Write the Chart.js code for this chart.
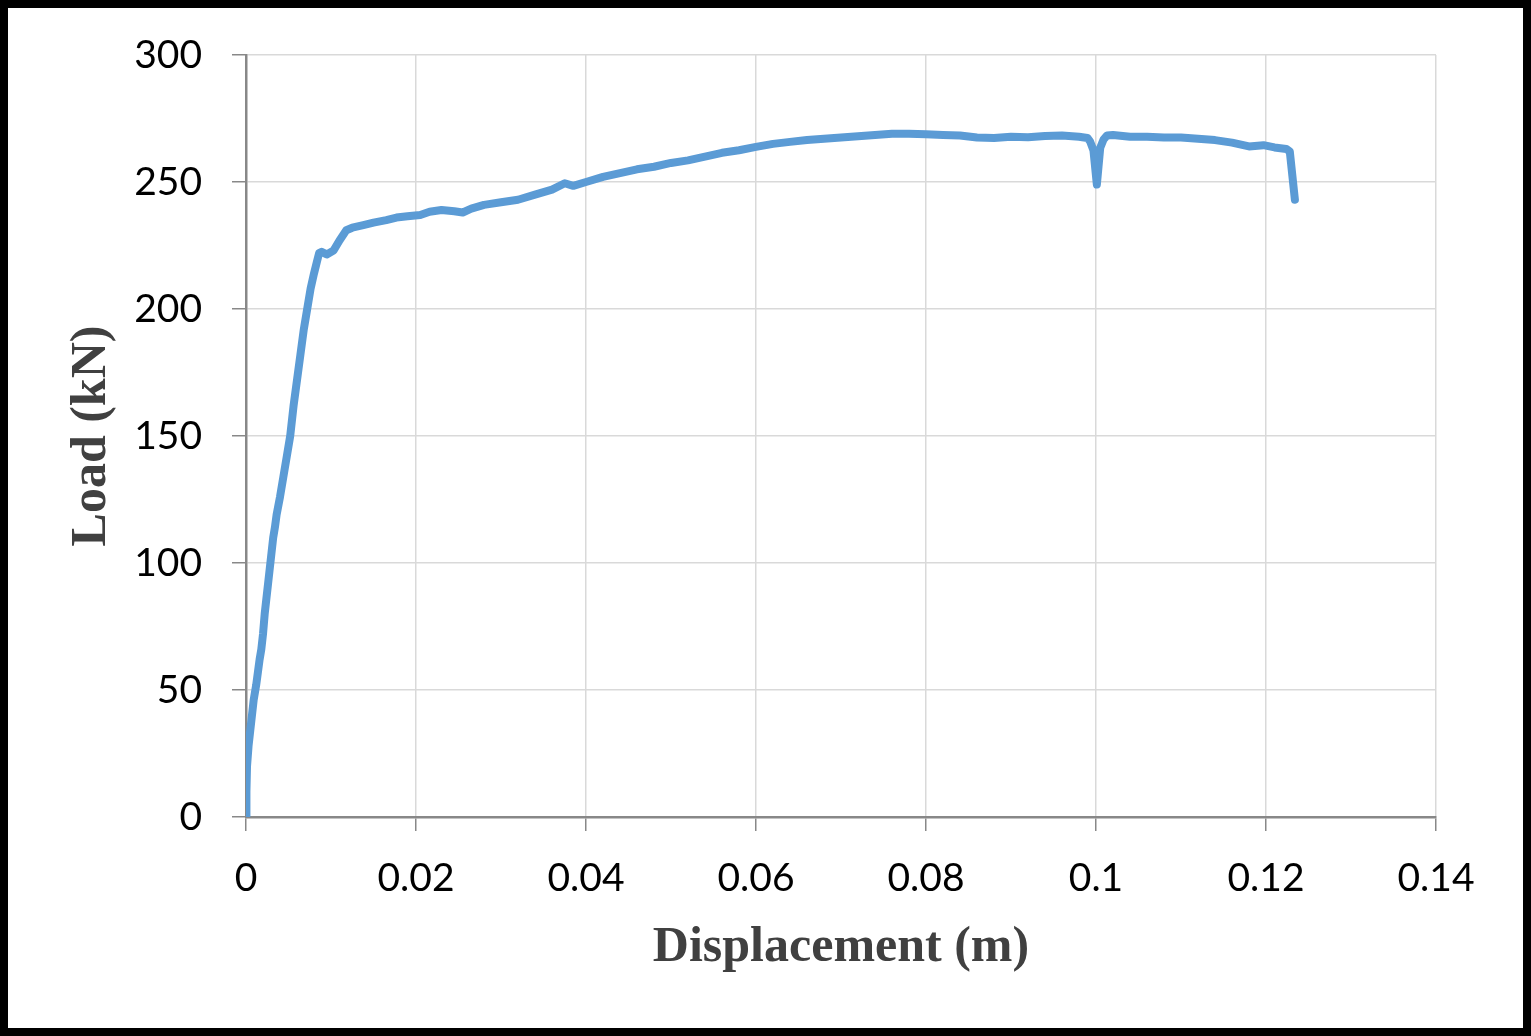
<!DOCTYPE html>
<html>
<head>
<meta charset="utf-8">
<script src="https://cdn.jsdelivr.net/npm/chart.js@4/dist/chart.umd.min.js"></script>
<style>
html,body{margin:0;padding:0;background:#fff;}
#wrap{position:relative;width:1531px;height:1036px;}
canvas{display:block;}
</style>
</head>
<body>
<div id="wrap"><canvas id="c" width="1531" height="1036"></canvas></div>
<script>
const displacement = [0,0.00005,0.00012,0.0003,0.0005,0.0007,0.0009,0.0012,0.0014,0.0016,0.0018,0.0020,0.0022,0.0024,0.0026,0.0028,0.0030,0.0032,0.0034,0.0036,0.0040,0.0044,0.0048,0.0052,0.0056,0.0060,0.0064,0.0068,0.0072,0.0076,0.0080,0.0083,0.0086,
0.0089,0.0095,0.0103,0.011,0.0118,0.0125,0.0138,0.015,0.0165,0.0177,0.019,0.0205,0.0216,0.023,0.0245,0.0255,0.0265,0.028,0.030,0.032,0.034,0.036,0.0375,0.0385,0.040,0.042,0.044,0.046,0.048,0.050,0.052,0.054,0.056,0.058,0.060,0.062,0.064,0.066,0.068,0.070,0.072,0.074,0.076,0.078,0.080,0.082,0.084,0.086,0.088,0.090,0.092,0.094,0.096,0.098,0.099,0.0993,0.0997,0.1001,0.1005,0.1009,0.1013,0.102,0.104,0.106,0.108,0.110,0.112,0.114,0.116,0.118,0.1197,0.121,0.1224,0.1228,0.1234];
const load = [0,10,20,28,34,40,46,52,57,62,66,72,80,86,92,98,104,110,114,119,126,134,142,150,162,172,182,192,200,208,214,218,222,
222.5,221.5,223,227,231,232,233,234,235,236,236.5,237,238.3,239,238.5,238,239.5,241,242,243,245,247,249.5,248.5,250,252,253.5,255,256,257.5,258.5,260,261.5,262.5,263.8,265,265.8,266.5,267,267.5,268,268.5,269,269,268.8,268.5,268.3,267.5,267.3,267.8,267.6,268.1,268.3,267.8,267.3,266,262.5,249,263.5,266.8,268.3,268.5,267.8,267.8,267.5,267.5,267,266.5,265.5,264,264.5,263.6,263,262,243];
const xTicks = [0,0.02,0.04,0.06,0.08,0.1,0.12,0.14];
const yTicks = [0,50,100,150,200,250,300];
const xTitle = 'Displacement (m)';
const yTitle = 'Load (kN)';

const points = displacement.map((d,i)=>({x:d,y:load[i]}));

const framePlugin = {
  id:'frame',
  beforeDraw(chart){
    const ctx = chart.ctx;
    ctx.save();
    ctx.fillStyle='#fff';
    ctx.fillRect(0,0,chart.width,chart.height);
    ctx.restore();
  },
  afterDraw(chart){
    const ctx = chart.ctx;
    ctx.save();
    ctx.strokeStyle='#000';
    ctx.lineWidth=8;
    ctx.strokeRect(4,4,chart.width-8,chart.height-8);
    ctx.restore();
  }
};

new Chart(document.getElementById('c'),{
  type:'scatter',
  data:{datasets:[{
    data:points,
    showLine:true,
    borderColor:'#5B9BD5',
    backgroundColor:'#5B9BD5',
    borderWidth:8,
    pointRadius:0,
    tension:0,
    borderJoinStyle:'round',
    borderCapStyle:'round'
  }]},
  options:{
    responsive:false,
    animation:false,
    layout:{padding:{top:55,right:95,left:62,bottom:58}},
    plugins:{legend:{display:false},tooltip:{enabled:false}},
    scales:{
      x:{
        type:'linear',min:0,max:0.14,
        afterFit(s){s.height=1036-58-817;},
        afterBuildTicks(s){s.ticks=xTicks.map(v=>({value:v}));},
        ticks:{
          callback:v=>String(+v.toFixed(2)),
          font:{family:'Lato',size:39},color:'#000',padding:24,maxRotation:0
        },
        grid:{color:'#d9d9d9',lineWidth:1.5,tickLength:14,tickColor:'#888',drawTicks:true},
        border:{color:'#888',width:2.5},
        title:{display:true,text:xTitle,font:{family:'Liberation Serif',size:50,weight:'bold'},color:'#404040',padding:{top:0,bottom:0}}
      },
      y:{
        type:'linear',min:0,max:300,
        afterFit(s){s.width=246-62;},
        afterBuildTicks(s){s.ticks=yTicks.map(v=>({value:v}));},
        ticks:{
          font:{family:'Lato',size:39},color:'#000',padding:30
        },
        grid:{color:'#d9d9d9',lineWidth:1.5,tickLength:14,tickColor:'#888',drawTicks:true},
        border:{color:'#888',width:2.5},
        title:{display:true,text:yTitle,font:{family:'Liberation Serif',size:50,weight:'bold'},color:'#404040',padding:{top:0,bottom:0}}
      }
    }
  },
  plugins:[framePlugin]
});
</script>
</body>
</html>
